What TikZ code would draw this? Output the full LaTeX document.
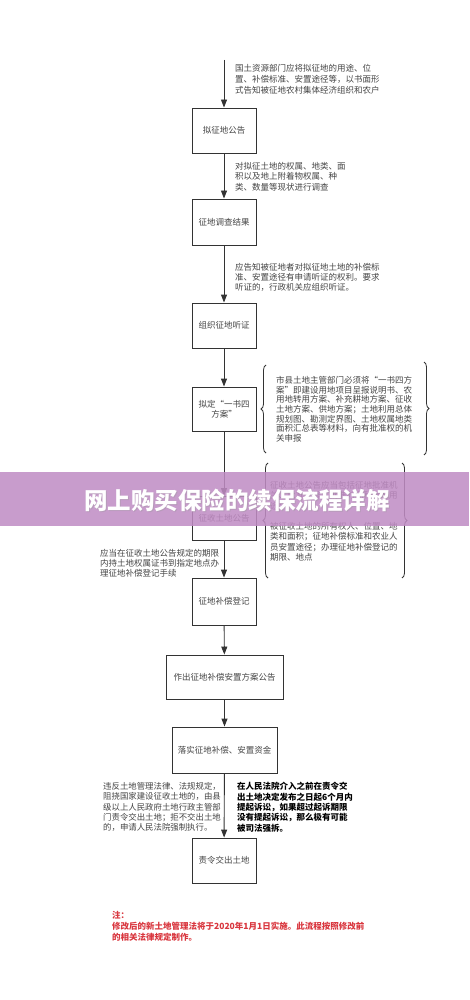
\documentclass[tikz,border=0pt]{standalone}
\usepackage{fontspec}
\setmainfont{Noto Sans CJK SC}
\usetikzlibrary{arrows.meta,decorations.pathreplacing}
\definecolor{linegray}{HTML}{333333}
\definecolor{textgray}{HTML}{444444}
\definecolor{notered}{HTML}{D9363E}
\definecolor{bannerpurple}{HTML}{C08CC4}
\tikzset{
  flowbox/.style={draw=linegray, line width=0.9pt, minimum width=64pt, minimum height=45pt,
    inner sep=2pt, align=center, text=textgray, font=\fontsize{8.5}{10.5}\selectfont},
  flowarrow/.style={draw=linegray, line width=0.9pt, -{Triangle[width=6pt,length=8pt]}},
  notetext/.style={anchor=north west, inner sep=0pt, align=left, text=textgray},
  bracepath/.style={draw=linegray, line width=0.8pt, decorate, decoration={brace, amplitude=5pt}},
}
\begin{document}
\begin{tikzpicture}[x=1pt,y=-1pt]
\useasboundingbox[fill=white] (0,0) rectangle (469,1000);

% boxes
\node[flowbox] (b1) at (224,130.5) {拟征地公告};
\node[flowbox, minimum height=46pt] (b2) at (224,222) {征地调查结果};
\node[flowbox] (b3) at (224,325.5) {组织征地听证};
\node[flowbox, minimum height=44pt] (b4) at (224,409) {拟定“一书四\\方案”};
\node[flowbox, minimum height=44pt] (b5) at (224,518.5) {征收土地公告};
\node[flowbox, minimum height=47pt] (b6) at (224,601.5) {征地补偿登记};
\node[flowbox, minimum width=117pt, minimum height=44pt] (b7) at (224.5,677) {作出征地补偿安置方案公告};
\node[flowbox, minimum width=105pt, minimum height=46pt] (b8) at (224.5,750) {落实征地补偿、安置资金};
\node[flowbox] (b9) at (224,860.5) {责令交出土地};

% connectors
\coordinate (start) at (224,60);
\draw[flowarrow] (start) -- (b1.north);
\draw[flowarrow] (b1) -- (b2);
\draw[flowarrow] (b2) -- (b3);
\draw[flowarrow] (b3) -- (b4);
\draw[flowarrow] (b4) -- (b5);
\draw[flowarrow] (b5) -- (b6);
\draw[flowarrow] (b6) -- (b7);
\draw[flowarrow] (b7) -- (b8);
\draw[flowarrow] (b8) -- (b9);

% side texts
\node[notetext, font=\fontsize{8.5}{11}\selectfont] (t1) at (235,64)
  {国土资源部门应将拟征地的用途、位\\置、补偿标准、安置途径等，以书面形\\式告知被征地农村集体经济组织和农户};
\node[notetext, font=\fontsize{8.5}{10.5}\selectfont] (t2) at (235,162)
  {对拟征土地的权属、地类、面\\积以及地上附着物权属、种\\类、数量等现状进行调查};
\node[notetext, font=\fontsize{8.5}{10}\selectfont] (t3) at (235,263)
  {应告知被征地者对拟征地土地的补偿标\\准、安置途径有申请听证的权利。要求\\听证的，行政机关应组织听证。};
\node[notetext, font=\fontsize{8.5}{9.7}\selectfont] (t4) at (276,376)
  {市县土地主管部门必须将“一书四方\\案”即建设用地项目呈报说明书、农\\用地转用方案、补充耕地方案、征收\\土地方案、供地方案；土地利用总体\\规划图、勘测定界图、土地权属地类\\面积汇总表等材料，向有批准权的机\\关申报};
\node[notetext, font=\fontsize{8.5}{10.3}\selectfont] (t5) at (270,481)
  {征收土地公告应当包括征地批准机\\关、批准文号、批准时间和批准用\\途；\\~\\被征收土地的所有权人、位置、地\\类和面积；征地补偿标准和农业人\\员安置途径；办理征地补偿登记的\\期限、地点};
\node[notetext, font=\fontsize{8.5}{10.2}\selectfont] (t6) at (100,549)
  {应当在征收土地公告规定的期限\\内持土地权属证书到指定地点办\\理征地补偿登记手续};
\node[notetext, font=\fontsize{8.4}{10.4}\selectfont] (t7) at (103,782)
  {违反土地管理法律、法规规定，\\阻挠国家建设征收土地的，由县\\级以上人民政府土地行政主管部\\门责令交出土地；拒不交出土地\\的，申请人民法院强制执行。};
\node[notetext, text=black, font=\fontsize{8.5}{10.4}\selectfont\bfseries] (t8) at (237,782)
  {在人民法院介入之前在责令交\\出土地决定发布之日起6个月内\\提起诉讼，如果超过起诉期限\\没有提起诉讼，那么极有可能\\被司法强拆。};

% braces
\coordinate (br1a) at (266,453); \coordinate (br1b) at (266,365);
\coordinate (br2a) at (424,362); \coordinate (br2b) at (424,455);
\coordinate (br3a) at (268,578); \coordinate (br3b) at (268,463);
\coordinate (br4a) at (402,463); \coordinate (br4b) at (402,578);
\draw[bracepath] (br1a) -- (br1b);
\draw[bracepath] (br2a) -- (br2b);
\draw[bracepath] (br3a) -- (br3b);
\draw[bracepath] (br4a) -- (br4b);

% red note
\node[notetext, text=notered, font=\fontsize{8.5}{11}\selectfont\bfseries] (note) at (112,911)
  {注：\\修改后的新土地管理法将于2020年1月1日实施。此流程按照修改前\\的相关法律规定制作。};

% banner overlay
\fill[bannerpurple, fill opacity=0.86] (0,472) rectangle (469,526);
\node[text=black!40, opacity=0.35, font=\fontsize{23.5}{26}\selectfont\bfseries] (bannershadow) at (238,501) {网上购买保险的续保流程详解};
\node[text=white, font=\fontsize{23.5}{26}\selectfont\bfseries] (banner) at (237,500) {网上购买保险的续保流程详解};
\end{tikzpicture}
\end{document}
